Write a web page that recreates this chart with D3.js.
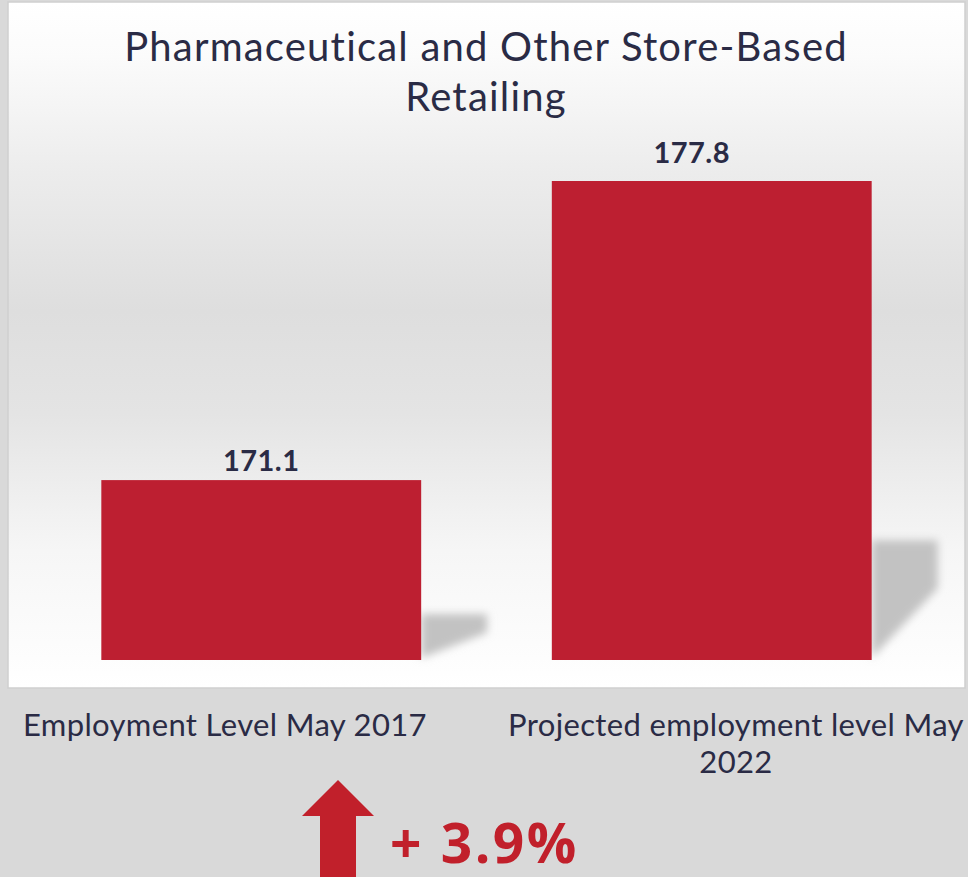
<!DOCTYPE html>
<html>
<head>
<meta charset="utf-8">
<script src="https://cdn.jsdelivr.net/npm/d3@7"></script>
<style>
  html, body { margin: 0; padding: 0; background: #d9d9d9; }
  svg { display: block; }
</style>
</head>
<body>
<svg id="chart" width="968" height="877"></svg>
<script>
'use strict';

// data
const categories = ["Employment Level May 2017", "Projected employment level May 2022"];
const categoryLines = [["Employment Level May 2017"], ["Projected employment level May", "2022"]];
const values = [171.1, 177.8];
const valueLabels = ["171.1", "177.8"];
const titleLines = ["Pharmaceutical and Other Store-Based", "Retailing"];
const changeLabel = "+ 3.9%";

const barColor = "#bd1f31";
const textColor = "#2a2b45";

function getConfig() {
    let svg = d3.select("#chart");
    let panel = { x: 8, y: 2, width: 957, height: 686 };
    let baseY = 660;
    return { svg, panel, baseY };
}

function getScales(config) {
    let xScale = d3.scaleBand()
        .domain(categories)
        .range([36, 937])
        .paddingInner(0.29)
        .paddingOuter(0.145);

    let yScale = d3.scaleLinear()
        .domain([167.07, 177.8])
        .range([config.baseY, 181]);

    return { xScale, yScale };
}

function drawPanel(config) {
    let { svg, panel } = config;
    let defs = svg.append("defs");

    let grad = defs.append("linearGradient")
        .attr("id", "panelGrad")
        .attr("x1", 0).attr("y1", 0).attr("x2", 0).attr("y2", 1);
    [[0, "#ffffff"], [0.08, "#fbfbfb"], [0.25, "#ececec"], [0.45, "#dedede"],
     [0.6, "#e4e4e4"], [0.8, "#f6f6f6"], [1, "#ffffff"]].forEach(s => {
        grad.append("stop").attr("offset", s[0]).attr("stop-color", s[1]);
    });

    defs.append("filter")
        .attr("id", "blur")
        .attr("x", "-20%").attr("y", "-20%").attr("width", "140%").attr("height", "140%")
        .append("feGaussianBlur")
        .attr("stdDeviation", 4.5);

    svg.append("rect")
        .attr("x", panel.x)
        .attr("y", panel.y)
        .attr("width", panel.width)
        .attr("height", panel.height)
        .attr("fill", "url(#panelGrad)")
        .attr("stroke", "#cfcfcf")
        .attr("stroke-width", 1.5);
}

function drawTitle(config) {
    let { svg } = config;
    svg.append("text")
        .attr("x", 486)
        .attr("y", 61)
        .attr("text-anchor", "middle")
        .style("font-family", "Lato, 'Open Sans', sans-serif")
        .style("font-size", "40px")
        .style("letter-spacing", "1.2px")
        .attr("fill", textColor)
        .selectAll("tspan")
        .data(titleLines)
        .enter().append("tspan")
        .attr("x", 486)
        .attr("dy", (d, i) => i === 0 ? 0 : 50)
        .text(d => d);
}

function drawBars(config, scales) {
    let { svg, baseY } = config;
    let { xScale, yScale } = scales;

    // soft shadow to the right of each bar
    svg.append("g")
        .selectAll("path")
        .data(values)
        .enter().append("path")
        .attr("d", (d, i) => {
            let x0 = xScale(categories[i]) + xScale.bandwidth();
            let h = baseY - yScale(d);
            let top = baseY - Math.max(h * 0.25, 46);
            let w = 66;
            let mid = top + (baseY - top) * 0.4;
            return "M" + x0 + "," + top + "L" + (x0 + w) + "," + top +
                "L" + (x0 + w) + "," + mid + "L" + x0 + "," + (baseY - 2) + "Z";
        })
        .attr("fill", "#c2c2c2")
        .attr("filter", "url(#blur)");

    svg.append("g")
        .selectAll("rect")
        .data(values)
        .enter().append("rect")
        .attr("x", (d, i) => xScale(categories[i]))
        .attr("y", d => yScale(d))
        .attr("width", xScale.bandwidth())
        .attr("height", d => baseY - yScale(d))
        .attr("fill", barColor);

    // the second label sits a little left of and higher above its bar in the reference
    let labelDx = [0, -20];
    let labelGap = [9, 18];
    svg.append("g")
        .selectAll("text")
        .data(values)
        .enter().append("text")
        .attr("x", (d, i) => xScale(categories[i]) + xScale.bandwidth() / 2 + labelDx[i])
        .attr("y", (d, i) => yScale(d) - labelGap[i])
        .attr("text-anchor", "middle")
        .style("font-family", "Lato, 'Open Sans', sans-serif")
        .style("font-weight", "bold")
        .style("font-size", "29px")
        .style("letter-spacing", "0.5px")
        .attr("fill", textColor)
        .text((d, i) => valueLabels[i]);
}

function drawCategoryLabels(config, scales) {
    let { svg } = config;
    let centers = [225, 736];

    let labels = svg.append("g")
        .selectAll("text")
        .data(categories)
        .enter().append("text")
        .attr("x", (d, i) => centers[i])
        .attr("y", 736)
        .attr("text-anchor", "middle")
        .style("font-family", "Lato, 'Open Sans', sans-serif")
        .style("font-size", "31px")
        .style("letter-spacing", "0.35px")
        .attr("fill", textColor);

    labels.selectAll("tspan")
        .data((d, i) => categoryLines[i].map(t => ({ t, c: centers[i] })))
        .enter().append("tspan")
        .attr("x", d => d.c)
        .attr("dy", (d, j) => j === 0 ? 0 : 37)
        .text(d => d.t);
}

function drawChange(config) {
    let { svg } = config;
    let arrowColor = "#c1202b";

    svg.append("path")
        .attr("d", "M338,780 L374,816 L356,816 L356,877 L320,877 L320,816 L302,816 Z")
        .attr("fill", arrowColor);

    svg.append("text")
        .attr("x", 390)
        .attr("y", 863)
        .style("font-family", "'Open Sans', Lato, sans-serif")
        .style("font-weight", "bold")
        .style("font-size", "55px")
        .style("letter-spacing", "2.5px")
        .attr("fill", arrowColor)
        .text(changeLabel);
}

function drawChart() {
    let config = getConfig();
    let scales = getScales(config);
    drawPanel(config);
    drawTitle(config);
    drawBars(config, scales);
    drawCategoryLabels(config, scales);
    drawChange(config);
}

drawChart();
</script>
</body>
</html>
